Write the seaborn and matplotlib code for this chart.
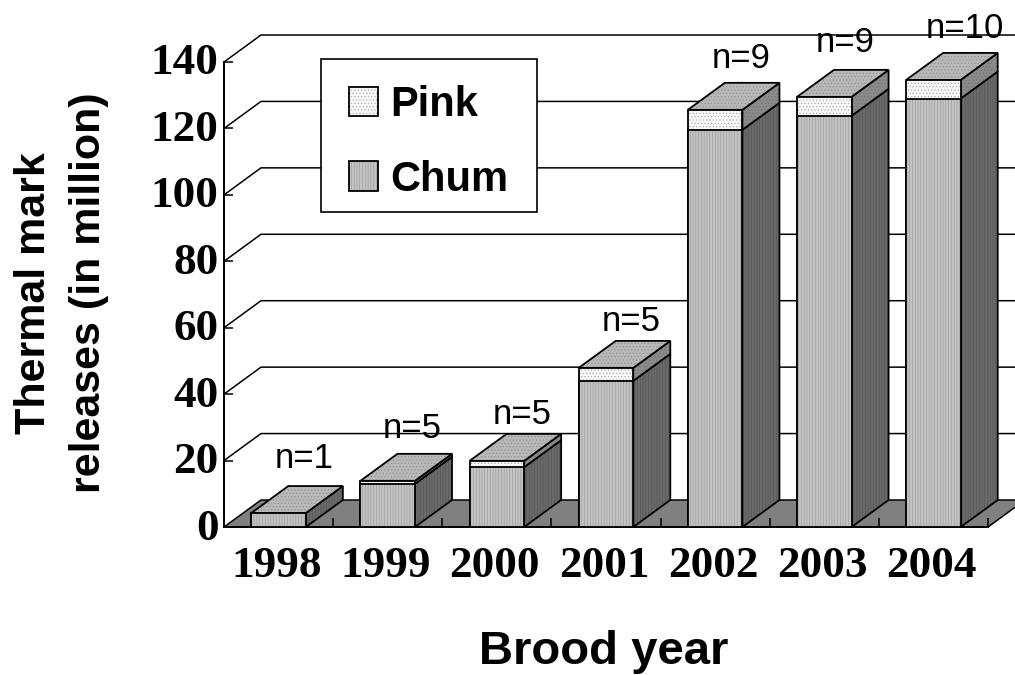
"""Thermal mark releases by brood year, drawn as a fake 3D stacked column chart."""

import matplotlib
matplotlib.use("Agg")
import matplotlib.pyplot as plt
from matplotlib.colors import to_rgba
from matplotlib.patches import Polygon, Rectangle
from matplotlib.ticker import FixedLocator
from matplotlib.transforms import ScaledTranslation
import pandas as pd
import seaborn as sns

years = ["1998", "1999", "2000", "2001", "2002", "2003", "2004"]
chum = [4.2, 13.0, 18.0, 44.0, 119.6, 123.8, 129.0]
pink = [0.0, 0.9, 1.9, 3.9, 6.0, 5.7, 5.6]
counts = ["n=1", "n=5", "n=5", "n=5", "n=9", "n=9", "n=10"]
y_ticks = [0, 20, 40, 60, 80, 100, 120, 140]

# label nudges in pixels, measured from the back edge of each bar top
label_dx = [26, 25, 25, 25, 26, 21, 31]
label_dy = [11, 9, 3, 3, 8, 11, 8]

# depth of the 3D effect in data units
DX = 0.339
DY = 8.13
WIDTH = 0.5

CHUM_FRONT = "#c2c2c2"
PINK_FRONT = "#f6f6f6"
TOP = "#b8b8b8"
PINK_SIDE = "#8a8a8a"
CHUM_SIDE = "#6a6a6a"
FLOOR = "#808080"

sns.set_style("white")
plt.rcParams["font.family"] = ["Liberation Sans", "DejaVu Sans"]
plt.rcParams["hatch.linewidth"] = 0.4

df = pd.DataFrame({"year": years, "chum": chum, "pink": pink})
df["total"] = df["chum"] + df["pink"]

fig = plt.figure(figsize=(10.15, 6.75), dpi=100)
ax = fig.add_axes([224 / 1015, 148 / 675, 764 / 1015, 465 / 675])
ax.patch.set_alpha(0)
ax.set_axisbelow(False)


def shade(patch, hatch, colour):
    # no public hatch colour setter here, and the edge has to stay black
    patch.set_hatch(hatch)
    patch._hatch_color = to_rgba(colour)


sns.barplot(data=df, x="year", y="total", color=PINK_FRONT, saturation=1, width=WIDTH,
            edgecolor="black", linewidth=1.3, label="Pink", zorder=4, ax=ax)
sns.barplot(data=df, x="year", y="chum", color=CHUM_FRONT, saturation=1, width=WIDTH,
            edgecolor="black", linewidth=1.3, label="Chum", zorder=4, ax=ax)

n_years = len(years)
for i, p in enumerate(ax.patches):
    if i < n_years:
        shade(p, ".....", "#a8a8a8")
    else:
        shade(p, "||||||", "#9a9a9a")

ax.set_xlim(-0.5, n_years - 0.5)
ax.set_ylim(0, 140)

# back wall and floor
x0, x1 = -0.5, n_years - 0.5
for y in y_ticks:
    if y > 0:
        ax.plot([x0, x0 + DX, x1 + DX], [y, y + DY, y + DY], color="black", lw=1.1,
                clip_on=False, zorder=1)
ax.add_patch(Polygon([(x0, 0), (x0 + DX, DY), (x1 + DX, DY), (x1, 0)], closed=True,
                     facecolor=FLOOR, edgecolor="black", lw=1.1, clip_on=False, zorder=2))

# side and top faces of every column
for i, (c, t) in enumerate(zip(df["chum"], df["total"])):
    left, right = i - WIDTH / 2, i + WIDTH / 2
    faces = [([(right, 0), (right + DX, DY), (right + DX, c + DY), (right, c)], CHUM_SIDE, "||||||", "#505050")]
    if t > c:
        faces.append(([(right, c), (right + DX, c + DY), (right + DX, t + DY), (right, t)], PINK_SIDE, ".....", "#707070"))
    faces.append(([(left, t), (right, t), (right + DX, t + DY), (left + DX, t + DY)], TOP, ".....", "#8c8c8c"))
    for pts, fc, hatch, hc in faces:
        face = Polygon(pts, closed=True, facecolor=fc, edgecolor="black", lw=1.3,
                       clip_on=False, zorder=3.5)
        shade(face, hatch, hc)
        ax.add_patch(face)
    ax.annotate(counts[i], xy=(i + DX, t + DY), xytext=(label_dx[i] - 37, label_dy[i]),
                textcoords="offset pixels", ha="center", va="bottom", fontsize=25,
                color="black", annotation_clip=False, zorder=6)

# ticks point inward, x ticks sit between the categories
sns.despine(ax=ax, top=True, right=True)
for side in ["left", "bottom"]:
    ax.spines[side].set_linewidth(1.4)
    ax.spines[side].set_color("black")
ax.set_yticks(y_ticks)
ax.xaxis.set_minor_locator(FixedLocator([i + 0.5 for i in range(n_years)]))
ax.tick_params(axis="x", which="major", length=0, pad=14)
ax.tick_params(axis="x", which="minor", direction="in", length=6.5, width=1.1, color="black", bottom=True)
ax.tick_params(axis="y", which="major", direction="in", length=6.5, width=1.1, color="black", left=True, pad=4)
for lab in ax.get_xticklabels() + ax.get_yticklabels():
    lab.set_family(["Liberation Serif", "DejaVu Serif"])
    lab.set_fontweight("bold")
    lab.set_fontsize(32.5)
    lab.set_color("black")
lift = ScaledTranslation(0, 3 / 100, fig.dpi_scale_trans)
for lab in ax.get_yticklabels():
    lab.set_transform(lab.get_transform() + lift)
nudge = ScaledTranslation(-2 / 100, 0, fig.dpi_scale_trans)
for lab in ax.get_xticklabels():
    lab.set_transform(lab.get_transform() + nudge)

ax.set_xlabel("Brood year", fontsize=34, fontweight="bold", color="black")
ax.xaxis.set_label_coords(380 / 764, -0.222)
ax.set_ylabel("Thermal mark\nreleases (in million)", fontsize=31, fontweight="bold",
              color="black", linespacing=1.47)
ax.yaxis.set_label_coords(-0.151, 0.503)

# legend box is a separate patch, its padding differs per side
ax.add_patch(Rectangle((97 / 764, 315 / 465), 216 / 764, 153 / 465, transform=ax.transAxes,
                       facecolor="white", edgecolor="black", lw=1.2, clip_on=False, zorder=9))
leg = ax.legend(loc="upper left", bbox_to_anchor=(125 / 764, 442 / 465), frameon=False, borderaxespad=0,
                handlelength=0.695, handleheight=0.695, handletextpad=0.29,
                labelspacing=0.83, borderpad=0, prop={"weight": "bold", "size": 30})
leg.set_zorder(10)
for txt in leg.get_texts():
    txt.set_color("black")

plt.savefig("out.png", dpi=100)
